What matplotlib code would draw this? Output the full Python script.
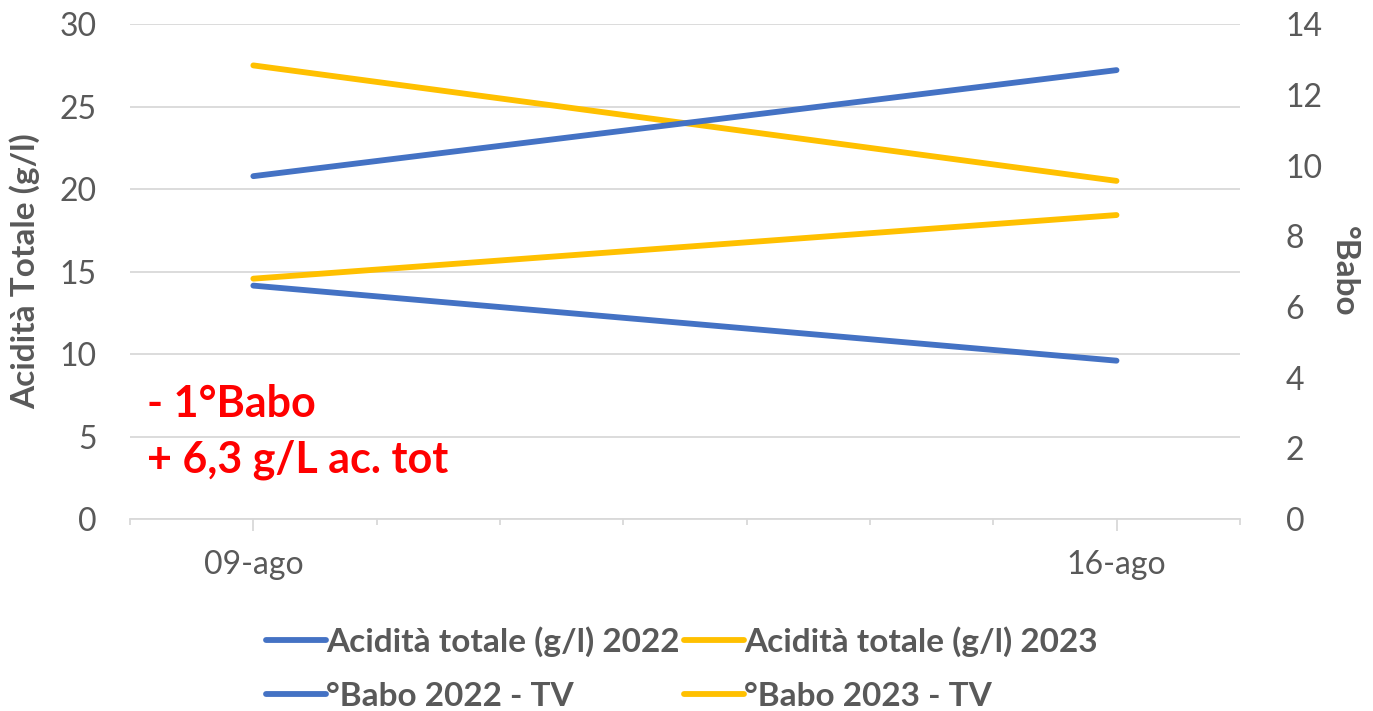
import datetime as dt
import matplotlib
matplotlib.use("Agg")
import matplotlib.pyplot as plt
import matplotlib.dates as mdates
from matplotlib.ticker import FuncFormatter, MultipleLocator

plt.rcParams['font.family'] = ['Lato', 'DejaVu Sans']

# Dati
dates = [dt.date(2023, 8, 9), dt.date(2023, 8, 16)]
acidita_2022 = [14.15, 9.6]     # g/l, asse sinistro
acidita_2023 = [27.5, 20.5]
babo_2022 = [9.7, 12.7]         # °Babo, asse destro
babo_2023 = [6.8, 8.6]
xlim = [dt.date(2023, 8, 8), dt.date(2023, 8, 17)]

blue = '#4472C4'
yellow = '#FFC000'
grey = '#595959'

fig = plt.figure(figsize=(13.73, 7.11), dpi=100)
ax = fig.add_axes([0.0947, 0.270, 0.8083, 0.696])
ax2 = ax.twinx()

lw = 4.2
l1, = ax.plot(dates, acidita_2022, color=blue, lw=lw, solid_capstyle='round',
              label='Acidità totale (g/l) 2022')
l2, = ax.plot(dates, acidita_2023, color=yellow, lw=lw, solid_capstyle='round',
              label='Acidità totale (g/l) 2023')
l3, = ax2.plot(dates, babo_2022, color=blue, lw=lw, solid_capstyle='round',
               label='°Babo 2022 - TV')
l4, = ax2.plot(dates, babo_2023, color=yellow, lw=lw, solid_capstyle='round',
               label='°Babo 2023 - TV')

ax.set_xlim(xlim)
ax.set_ylim(0, 30)
ax2.set_ylim(0, 14)
ax.yaxis.set_major_locator(MultipleLocator(5))
ax2.yaxis.set_major_locator(MultipleLocator(2))

ax.xaxis.set_major_locator(mdates.DayLocator(bymonthday=[9, 16]))
ax.xaxis.set_minor_locator(mdates.DayLocator())
ax.xaxis.set_major_formatter(FuncFormatter(lambda v, p: mdates.num2date(v).strftime('%d') + '-ago'))

ax.grid(axis='y', color='#D9D9D9', lw=1.3)
ax.set_axisbelow(True)
for a in (ax, ax2):
    for s in ('top', 'left', 'right', 'bottom'):
        a.spines[s].set_visible(False)
ax.spines['bottom'].set_visible(True)
ax.spines['bottom'].set_color('#D9D9D9')
ax.spines['bottom'].set_linewidth(1.3)

ax.tick_params(axis='y', length=0, labelsize=23, labelcolor=grey, pad=24)
ax2.tick_params(axis='y', length=0, labelsize=23, labelcolor=grey, pad=33)
ax.tick_params(axis='x', which='major', length=8.6, color='#D9D9D9', width=1.3,
               labelsize=23, labelcolor=grey, pad=14)
ax.tick_params(axis='x', which='minor', length=4, color='#D9D9D9', width=1.3)

ax.set_ylabel('Acidità Totale (g/l)', fontsize=24, fontweight='bold', color=grey, labelpad=14)
ax2.set_ylabel('°Babo', fontsize=24, fontweight='bold', color=grey, rotation=270,
               labelpad=26)

ax.text(0.015, 0.206, '- 1°Babo', transform=ax.transAxes, fontsize=31,
        fontweight='bold', color='#FF0000', va='baseline')
ax.text(0.015, 0.095, '+ 6,3 g/L ac. tot', transform=ax.transAxes, fontsize=31,
        fontweight='bold', color='#FF0000', va='baseline')

fig.legend([l1, l3, l2, l4], [l1.get_label(), l3.get_label(), l2.get_label(), l4.get_label()],
           ncol=2, frameon=False, loc='upper left', bbox_to_anchor=(0.184, 0.138),
           labelcolor=grey, prop={'weight': 'bold', 'size': 24},
           handlelength=1.8, handletextpad=0.0, columnspacing=0.15, labelspacing=0.75,
           borderaxespad=0)

fig.savefig('out.png', dpi=100)
